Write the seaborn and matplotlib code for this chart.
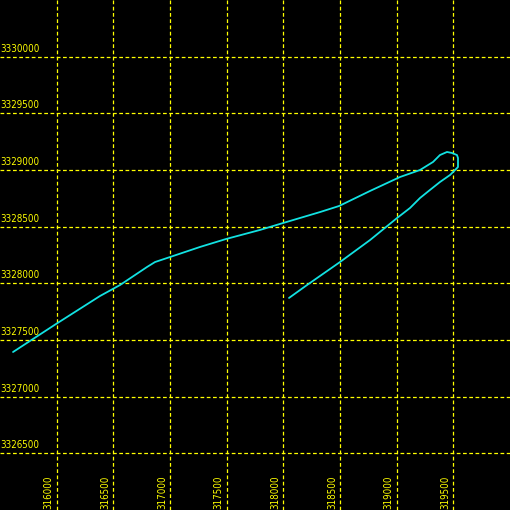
import matplotlib
matplotlib.use("Agg")
import matplotlib.pyplot as plt
import matplotlib.transforms as mtransforms
from matplotlib import font_manager
import pandas as pd
import seaborn as sns

# track coordinates (easting, northing), in drawing order
easting = [315615, 315994, 316382, 316559, 316797, 316868, 317000, 317265,
           317494, 317794, 317997, 318324, 318491, 318765, 319029, 319206,
           319321, 319382, 319444, 319488, 319532, 319541, 319541, 319515,
           319471, 319382, 319294, 319206, 319118, 319003, 318765, 318500,
           318209, 318050]
northing = [3327394, 3327641, 3327888, 3327985, 3328144, 3328188, 3328232, 3328321,
            3328391, 3328471, 3328532, 3328629, 3328682, 3328815, 3328938, 3329000,
            3329071, 3329132, 3329159, 3329150, 3329132, 3329106, 3329026, 3329000,
            3328956, 3328894, 3328824, 3328753, 3328665, 3328576, 3328382, 3328188,
            3327985, 3327871]

x_ticks = [316000, 316500, 317000, 317500, 318000, 318500, 319000, 319500]
y_ticks = [3326500, 3327000, 3327500, 3328000, 3328500, 3329000, 3329500, 3330000]

df = pd.DataFrame({"x": easting, "y": northing})

sns.set_style("dark")
names = {f.name for f in font_manager.fontManager.ttflist}
fam = [n for n in ["Liberation Sans Narrow", "DejaVu Sans"] if n in names]
plt.rcParams["font.family"] = fam

fig = plt.figure(figsize=(5.1001, 5.1001), dpi=100, facecolor="black")
ax = fig.add_axes([0, 0, 1, 1])
ax.set_facecolor("black")

sns.lineplot(data=df, x="x", y="y", sort=False, estimator=None,
             color="#12e2e2", linewidth=1.3, ax=ax)

ax.set_xlim(315500, 320000)
ax.set_ylim(3326000, 3330500)
ax.set_xticks(x_ticks)
ax.set_yticks(y_ticks)
ax.grid(True, color="#ffff00", linewidth=0.9, linestyle=(0, (3.0, 2.0)))
ax.tick_params(length=0, labelbottom=False, labelleft=False)
ax.set_xlabel("")
ax.set_ylabel("")
for s in ax.spines.values():
    s.set_visible(False)

fsize = 8 if fam[0] == "Liberation Sans Narrow" else 7
stretch = "normal" if fam[0] == "Liberation Sans Narrow" else "condensed"

# labels drawn inside the plot area
ylab_tr = mtransforms.blended_transform_factory(ax.transAxes, ax.transData)
ylab_off = mtransforms.offset_copy(ylab_tr, fig=fig, x=0, y=3, units="dots")
for v in y_ticks:
    ax.text(0, v, str(v), transform=ylab_off, color="#ffff00", fontsize=fsize,
            fontstretch=stretch, ha="left", va="bottom")

xlab_tr = mtransforms.blended_transform_factory(ax.transData, ax.transAxes)
xlab_off = mtransforms.offset_copy(xlab_tr, fig=fig, x=-3, y=1, units="dots")
for v in x_ticks:
    ax.text(v, 0, str(v), transform=xlab_off, color="#ffff00", fontsize=fsize,
            fontstretch=stretch, rotation=90, ha="right", va="bottom")

fig.savefig("out.png", dpi=100, facecolor="black")
